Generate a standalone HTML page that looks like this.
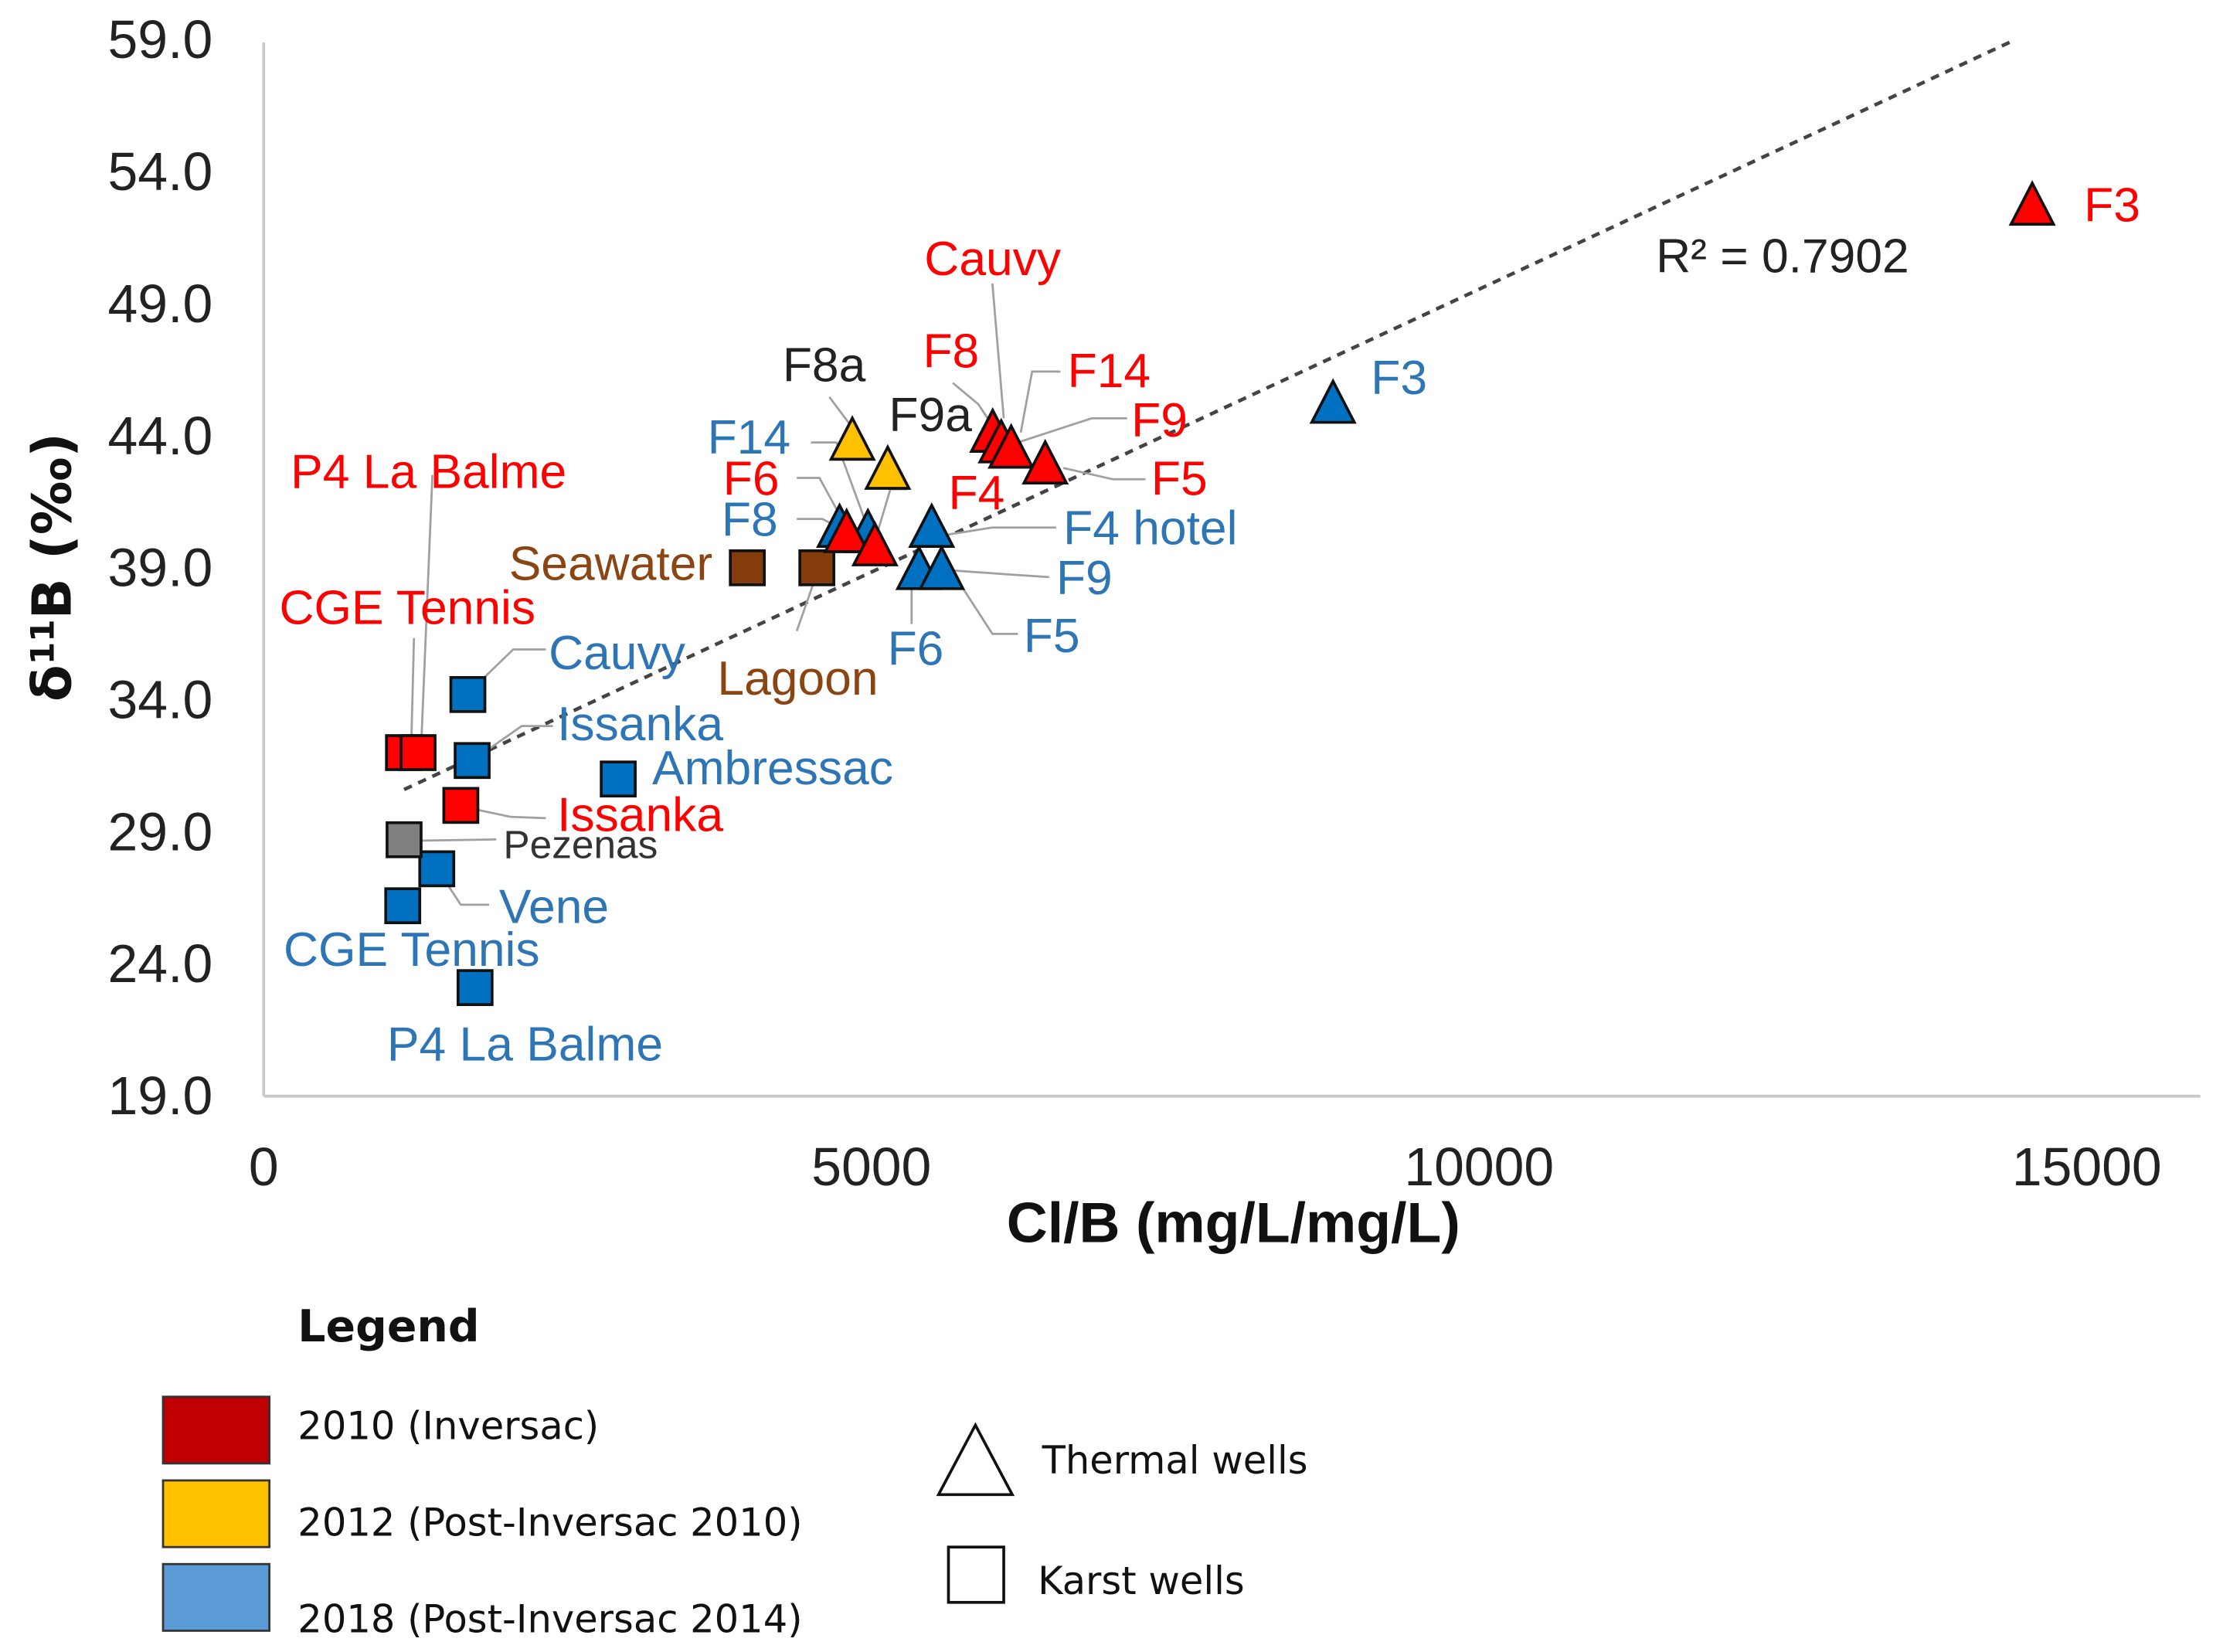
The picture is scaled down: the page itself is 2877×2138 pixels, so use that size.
<!DOCTYPE html>
<html><head><meta charset="utf-8"><style>
html,body{margin:0;padding:0;background:#fff;}
svg{display:block;}
.lbl{font-family:"Liberation Sans Narrow","Liberation Sans",sans-serif;font-size:34px;}
.tick{font-family:"Liberation Sans Narrow","Liberation Sans",sans-serif;font-size:38px;fill:#222;}
.leg{font-family:"DejaVu Sans","Liberation Sans",sans-serif;font-size:27px;fill:#111;}
</style></head><body>
<svg id="chart" width="2877" height="2138" viewBox="0 0 1568 1165" preserveAspectRatio="none" xmlns="http://www.w3.org/2000/svg">
<g id="axes"></g>
<g id="trend"></g>
<g id="leaders" stroke="#a0a0a0" stroke-width="1.5" fill="none">
<polyline points="700,200 708,295"/>
<polyline points="672,270 690,285 700,300"/>
<polyline points="748,262 728,262 720,305"/>
<polyline points="795,295 770,295 718,312"/>
<polyline points="808,338 785,338 750,330"/>
<polyline points="585,280 600,300"/>
<polyline points="572,312 590,312 612,372"/>
<polyline points="562,337 578,337 596,370"/>
<polyline points="562,366 580,366 592,372"/>
<polyline points="640,345 628,345 617,382"/>
<polyline points="745,372 700,372 662,378"/>
<polyline points="740,407 710,405 668,402"/>
<polyline points="718,447 700,447 676,410"/>
<polyline points="643,440 643,412"/>
<polyline points="562,445 576,405"/>
<polyline points="305,335 297,528"/>
<polyline points="292,450 290,528"/>
<polyline points="385,458 362,458 332,487"/>
<polyline points="390,512 368,512 335,535"/>
<polyline points="385,577 360,576 327,569"/>
<polyline points="350,592 286,593"/>
<polyline points="345,638 325,638 308,612"/>
</g>
<g id="marks"></g>
<g id="labels" class="lbl">
<text x="1470" y="156" fill="#ff0000">F3</text>
<text x="1168" y="192" fill="#222">R² = 0.7902</text>
<text x="652" y="194" fill="#ff0000">Cauvy</text>
<text x="651" y="259" fill="#ff0000">F8</text>
<text x="753" y="273" fill="#ff0000">F14</text>
<text x="798" y="308" fill="#ff0000">F9</text>
<text x="812" y="349" fill="#ff0000">F5</text>
<text x="669" y="359" fill="#ff0000">F4</text>
<text x="552" y="269" fill="#222">F8a</text>
<text x="627" y="304" fill="#222">F9a</text>
<text x="499" y="320" fill="#2e75b6">F14</text>
<text x="510" y="349" fill="#ff0000">F6</text>
<text x="509" y="378" fill="#2e75b6">F8</text>
<text x="750" y="384" fill="#2e75b6">F4 hotel</text>
<text x="745" y="419" fill="#2e75b6">F9</text>
<text x="722" y="460" fill="#2e75b6">F5</text>
<text x="626" y="469" fill="#2e75b6">F6</text>
<text x="967" y="278" fill="#2e75b6">F3</text>
<text x="205" y="344" fill="#ff0000">P4 La Balme</text>
<text x="359" y="409" fill="#8b4513">Seawater</text>
<text x="197" y="440" fill="#ff0000">CGE Tennis</text>
<text x="387" y="472" fill="#2e75b6">Cauvy</text>
<text x="506" y="490" fill="#8b4513">Lagoon</text>
<text x="393" y="522" fill="#2e75b6">Issanka</text>
<text x="460" y="553" fill="#2e75b6">Ambressac</text>
<text x="393" y="586" fill="#ff0000">Issanka</text>
<text x="355" y="605" fill="#333" style="font-size:28px">Pezenas</text>
<text x="352" y="651" fill="#2e75b6">Vene</text>
<text x="200" y="681" fill="#2e75b6">CGE Tennis</text>
<text x="273" y="748" fill="#2e75b6">P4 La Balme</text>
</g>
<text x="870" y="876" text-anchor="middle" style="font-family:'Liberation Sans',sans-serif;font-weight:bold;font-size:40px;fill:#111">Cl/B (mg/L/mg/L)</text>
<text transform="translate(50,400) rotate(-90)" text-anchor="middle" style="font-family:'DejaVu Sans','Liberation Sans',sans-serif;font-weight:bold;font-size:38px;fill:#111">δ<tspan dy="-12" style="font-size:23px">11</tspan><tspan dy="12">B (‰)</tspan></text>
<g id="legend">
<text x="210" y="946" style="font-family:'DejaVu Sans',sans-serif;font-weight:bold;font-size:31px;fill:#111">Legend</text>
<rect x="115" y="985" width="75" height="47" fill="#c00000" stroke="#333" stroke-width="1.5"/>
<text class="leg" x="210" y="1015">2010 (Inversac)</text>
<rect x="115" y="1044" width="75" height="47" fill="#ffc000" stroke="#333" stroke-width="1.5"/>
<text class="leg" x="210" y="1083">2012 (Post-Inversac 2010)</text>
<rect x="115" y="1103" width="75" height="47" fill="#5b9bd5" stroke="#333" stroke-width="1.5"/>
<text class="leg" x="210" y="1151">2018 (Post-Inversac 2014)</text>
<polygon points="688,1005 714,1054 662,1054" fill="#fff" stroke="#111" stroke-width="2"/>
<text class="leg" x="735" y="1039">Thermal wells</text>
<rect x="669" y="1091" width="39" height="39" fill="#fff" stroke="#111" stroke-width="2"/>
<text class="leg" x="732" y="1124">Karst wells</text>
</g>
</svg>
<script>
const xTicks=[0,5000,10000,15000];
const yTicks=[19,24,29,34,39,44,49,54,59];
const yTickLabels=["19.0","24.0","29.0","34.0","39.0","44.0","49.0","54.0","59.0"];
const triX=[8798,4738,4971,5496,5391,5578,4843,5134,14551,5998,6068,6150,6430,4796,5029];
const triY=[45.1,40.4,40.2,40.4,38.8,38.8,43.7,42.6,52.6,44.0,43.6,43.4,42.8,40.2,39.7];
const triC=["blue","blue","blue","blue","blue","blue","yellow","yellow","red","red","red","red","red","red","red"];
const sqX=[1150,1270,1622,1680,1715,2917,1424,1144,1739,1155,3979,4551];
const sqY=[32.0,32.0,30.0,34.2,31.7,31.0,27.6,26.2,23.1,28.7,39.0,39.0];
const sqC=["red","red","red","blue","blue","blue","blue","blue","blue","grey","brown","brown"];
const trendX=[1155,14364];
const trendY=[30.6,58.9];
const colors={red:"#ff0000",yellow:"#ffc000",blue:"#0070c0",grey:"#808080",brown:"#843c0c"};
const NS="http://www.w3.org/2000/svg";
const X0=186,X1=1552,Y0=773;
function sx(v){return 186+v*0.08573;}
function sy(v){return 28+(59-v)*18.62;}
function mk(t,a,p){const e=document.createElementNS(NS,t);for(const k in a)e.setAttribute(k,a[k]);p.appendChild(e);return e;}
const ax=document.getElementById('axes');
let l=mk('line',{x1:X0,y1:30,x2:X0,y2:Y0,stroke:'#c8c8c8','stroke-width':2},ax);


l=mk('line',{x1:X0,y1:Y0,x2:X1,y2:Y0,stroke:'#c8c8c8','stroke-width':2},ax);


yTicks.forEach((v,i)=>{const t=mk('text',{x:150,y:sy(v)+13,'text-anchor':'end','class':'tick'},ax);t.textContent=yTickLabels[i];

});
xTicks.forEach(v=>{const t=mk('text',{x:sx(v),y:836,'text-anchor':'middle','class':'tick'},ax);t.textContent=String(v);

});
const tr=mk('line',{x1:sx(trendX[0]),y1:sy(trendY[0]),x2:sx(trendX[1]),y2:sy(trendY[1]),stroke:'#444','stroke-width':2.5,'stroke-dasharray':'6,5'},document.getElementById('trend'));


const mg=document.getElementById('marks');
sqX.forEach((v,i)=>{const cx=sx(v),cy=sy(sqY[i]);const r=mk('rect',{x:cx-12,y:cy-12,width:24,height:24,fill:colors[sqC[i]],stroke:'#111','stroke-width':2},mg);

});
triX.forEach((v,i)=>{const cx=sx(v),cy=sy(triY[i]);const p=mk('polygon',{points:`${cx},${cy-18} ${cx+15},${cy+11} ${cx-15},${cy+11}`,fill:colors[triC[i]],stroke:'#111','stroke-width':2},mg);

});
</script>
</body></html>
